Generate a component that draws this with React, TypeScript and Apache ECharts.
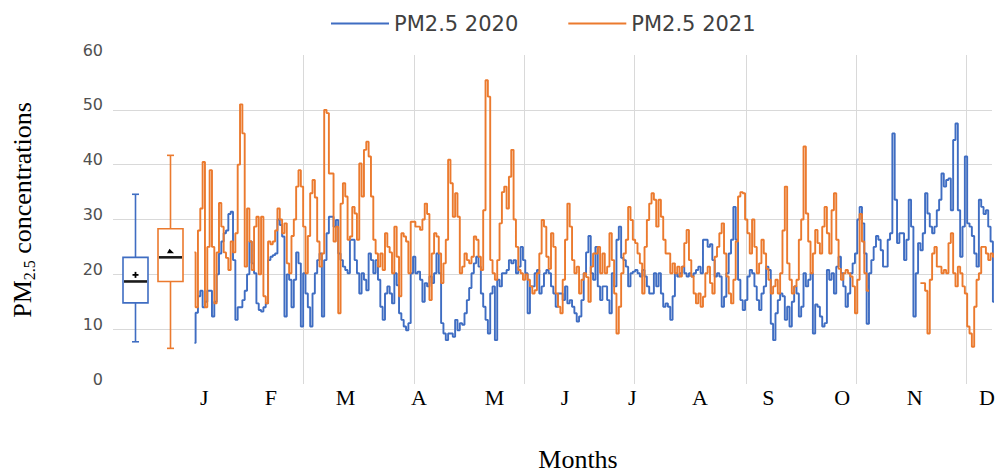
import React, { useEffect, useRef } from 'react';
import * as echarts from 'echarts';

// Month tick labels and where they sit (day-of-year units)
const monthLabels = ['J', 'F', 'M', 'A', 'M', 'J', 'J', 'A', 'S', 'O', 'N', 'D'];
const monthLabelDays = [4.2, 32.7, 64.6, 96.0, 128.3, 158.5, 187.3, 216.2, 245.5, 277.0, 308.0, 339.0];
// Vertical gridline positions (day-of-year units)
const gridDays = [46.7, 93.9, 141.0, 188.2, 235.8, 283.0, 330.1];
const yTicks = [0, 10, 20, 30, 40, 50, 60];

const seriesNames = ['PM2.5 2020', 'PM2.5 2021'];

// Daily PM2.5, 2020
const pm2020 = [
  7.5, 13, 16, 17, 14, 15, 17, 17, 12.3, 15, 20, 23.8, 26, 27.5, 28, 31, 31.4, 22.6, 11.7, 14,
  14, 15.3, 17, 20, 26, 22, 20.2, 14.7, 13.5, 13.2, 14, 14.7, 22.6, 23.2, 23.5, 23.8, 30, 29, 26.9, 12.3,
  20, 19, 14, 19, 24, 22, 10.5, 20.2, 16.5, 14, 10.5, 16.5, 20.2, 22.6, 23.8, 12.3, 22.6, 27.5, 30.5, 30.5,
  28.7, 29.9, 23.8, 22.6, 21.4, 20.8, 20.2, 26.3, 26.3, 22.6, 20.2, 16.5, 20.2, 19, 17.1, 23.8, 22.6, 20.2, 22.6, 19,
  14.1, 11.7, 16.5, 17.8, 16.5, 14.7, 20.2, 18, 12.9, 11.7, 10.5, 9.8, 11.1, 20.2, 23.2, 20.2, 20.5, 19, 15, 18.4,
  17.8, 19.6, 18.4, 20.2, 23.8, 20.2, 11.1, 9.2, 8, 9.2, 9.2, 8.6, 11.7, 9.8, 11.1, 10.8, 12.9, 15.3, 17.5, 20.2,
  22, 23.2, 21.4, 16.5, 14.1, 11.7, 9.2, 16.5, 17.8, 8, 19, 17.8, 20.2, 20.2, 20.8, 22.6, 22, 22.6, 20.2, 21.4,
  25, 22.6, 20.2, 12.9, 17.8, 17.8, 20.2, 20.8, 16.5, 17.8, 20.2, 20.8, 20.2, 17.8, 16.5, 14.1, 16.5, 16.5, 15.3, 17.8,
  14.7, 15.3, 14.1, 12.9, 11.4, 12.3, 15.3, 20.2, 24, 27, 20.2, 19, 25, 17.8, 15.3, 17.8, 17.8, 15.3, 12.9, 20.2,
  17.8, 26.3, 28.7, 23, 22.6, 21.4, 17.8, 20.2, 20.5, 20.8, 20.2, 19.6, 20.8, 19.6, 17.8, 16.5, 16.5, 20.2, 17.8, 20.2,
  16.5, 14.1, 14.7, 14.1, 11.7, 16, 20.2, 19.6, 20.2, 21.4, 20.2, 19.6, 20.2, 19.6, 20.2, 20.8, 21.4, 20.2, 26.3, 26.3,
  25, 25.5, 22.6, 19.6, 20.2, 19.6, 14.1, 15.9, 20.2, 23.8, 26.3, 32.3, 26.3, 19, 15.3, 13.5, 15.3, 19.6, 20.8, 20.2,
  17.8, 15.3, 13.5, 16.5, 17.8, 21.4, 20.8, 11, 8, 12.9, 15.3, 16.5, 16, 11.7, 14.1, 10.5, 15, 17.8, 16.5, 12.3,
  14.1, 20.2, 17.8, 19, 20.2, 9.2, 14.5, 14.1, 12.3, 10.5, 11.1, 20.8, 19, 20.2, 16.5, 21.4, 23.2, 20.2, 17.8, 14.1,
  16.5, 20.2, 22, 23.8, 30, 32.3, 29.3, 23.8, 11, 20.2, 22.6, 25, 27, 26.3, 24.4, 21.4, 21.4, 26.3, 27.5, 45.7,
  33.6, 25.7, 27.5, 27.5, 22.6, 26.3, 33.6, 28.7, 12.3, 20.2, 25.7, 24.4, 27.5, 34.8, 31.1, 28.7, 27.5, 28.7, 31.7, 33.6,
  38.4, 36, 37.2, 37.5, 31.7, 44.5, 47.5, 31.7, 23.2, 28.7, 41.5, 29.3, 28.7, 27, 23.8, 21.4, 33.6, 32.3, 31, 31.7,
  28.7, 26, 15
];

// Daily PM2.5, 2021 (null = missing days)
const pm2021 = [
  24, 14, 28, 32, 40.5, 14, 25, 39, 25, 14.7, 24, 33, 28.7, 24, 23, 20.8, 26, 24, 27.5, 40,
  51, 45.7, 21.4, 32, 26, 20.8, 28.7, 30.5, 20, 30.5, 16, 14.7, 26, 25.5, 26, 28, 32, 30, 27.5, 29.3,
  22, 20.2, 27, 30, 36, 39, 36, 28.7, 20.2, 27, 34.8, 37.2, 34, 26, 21.4, 23.8, 50, 49.4, 38.4, 38.4,
  26, 28.7, 12.9, 32.9, 36.6, 34.2, 26.3, 26.9, 32.3, 31.1, 26.3, 40.2, 34.2, 42.7, 44.2, 41.5, 34.2, 26.3, 23.8, 21.4,
  23.8, 20.8, 27.5, 25, 24, 20.2, 28.7, 23.2, 16, 27.5, 26.9, 26, 20.2, 29.6, 29.6, 28.7, 28.7, 28.1, 30, 32.9,
  31, 15.3, 23.8, 27.5, 26.9, 23.8, 18.4, 22, 26.3, 40.9, 36.6, 30.5, 34.8, 30.5, 20.2, 21.4, 23.8, 22.6, 22, 23.2,
  26.9, 26.3, 23.2, 20.8, 31.7, 55.4, 52.4, 22.6, 20.2, 19, 22.6, 29.3, 35, 36, 32, 37.8, 42.7, 30, 25, 20.8,
  20.2, 19, 20, 19, 17.8, 16.5, 17.1, 20.2, 23.8, 29.9, 28.7, 23.2, 21, 27.5, 25, 16.5, 14.1, 12.9, 19, 26.3,
  32.9, 28.7, 22.6, 20.2, 21.4, 16.5, 19, 20.2, 19.5, 15, 21.4, 23.8, 23.8, 25, 20.2, 23.8, 20.2, 21.4, 27.5, 22.6,
  16.5, 9.2, 14.1, 20.2, 23.8, 26.3, 32.3, 29.9, 26.3, 25.7, 23.8, 22, 16.5, 25, 29.9, 32.9, 34.8, 33.6, 28.7, 33.6,
  30.5, 26.3, 23.8, 23.8, 20.2, 22, 20.2, 21.4, 19.6, 21.4, 25.7, 28.1, 22.6, 19.6, 16.5, 14.7, 16.5, 14.1, 15.9, 20.2,
  21.4, 18.4, 16.5, 23.2, 25, 27.5, 29.3, 23.8, 19.6, 16.5, 14.7, 19, 26, 34.2, 35, 34.8, 30, 27.5, 23.8, 30,
  25, 20.2, 22, 26.3, 23.8, 21, 19, 16.5, 17.8, 19, 16.5, 20.2, 28, 36, 22, 19, 16.5, 17.8, 19, 26.3,
  30, 43.3, 31.1, 26, 20.2, 23.8, 28.1, 25.7, 23.8, 28.7, 32.3, 27.5, 23.8, 31.7, 34.8, 26.3, 21, 19, 20.2, 20.8,
  20.2, 19.6, 17.8, 12.9, 19, 31, 26, 20.2, 17,
  null, null, null, null, null, null, null, null, null, null, null, null, null, null, null, null, null, null, null, null, null, null,
  18.4, 18.4, 17, 9.2, 19, 23.8, 25, 21.4, 21.4, 20.2, 20.8, 20.2, 25.7, 27.5, 20.2, 17.8, 21.4, 20.2, 17.8, 16.5,
  10.5, 9.2, 6.8, 14.1, 19, 20.2, 25, 25, 23.8, 22.6, 23.8, 23.2
];

// Box plots: [min, Q1, median, Q3, max] and mean
const boxCategories = ['2020', '2021'];
const box2020 = [7.7, 14.8, 18.7, 23.1, 34.6];
const box2021 = [6.5, 18.7, 23.1, 28.3, 41.7];
const boxMeans = [19.9, 24.2];

const BLUE = '#3F6DC2';
const ORANGE = '#EB7A2E';

function makeBoxRender(markerKind: 'plus' | 'tri') {
  return (params: any, api: any) => {
    const c = api.visual('color');
    const xi = api.value(0);
    const P = (v: number) => api.coord([xi, v]);
    const x = P(api.value(1))[0];
    const yMin = P(api.value(1))[1];
    const yQ1 = P(api.value(2))[1];
    const yMed = P(api.value(3))[1];
    const yQ3 = P(api.value(4))[1];
    const yMax = P(api.value(5))[1];
    const yMean = P(api.value(6))[1];
    const hw = 12.5;
    const cw = 3.5;
    const ls = { stroke: c, lineWidth: 1.6, fill: null };
    const children: any[] = [
      { type: 'line', shape: { x1: x, y1: yMin, x2: x, y2: yQ1 }, style: ls },
      { type: 'line', shape: { x1: x, y1: yQ3, x2: x, y2: yMax }, style: ls },
      { type: 'line', shape: { x1: x - cw, y1: yMin, x2: x + cw, y2: yMin }, style: ls },
      { type: 'line', shape: { x1: x - cw, y1: yMax, x2: x + cw, y2: yMax }, style: ls },
      { type: 'rect', shape: { x: x - hw, y: yQ3, width: hw * 2, height: yQ1 - yQ3 }, style: { stroke: c, lineWidth: 1.6, fill: '#ffffff' } },
      { type: 'line', shape: { x1: x - hw + 1, y1: yMed, x2: x + hw - 1, y2: yMed }, style: { stroke: '#1b1b1b', lineWidth: 2.6 } },
    ];
    if (markerKind === 'plus') {
      children.push({ type: 'line', shape: { x1: x - 3, y1: yMean, x2: x + 3, y2: yMean }, style: { stroke: '#000', lineWidth: 1.8 } });
      children.push({ type: 'line', shape: { x1: x, y1: yMean - 3, x2: x, y2: yMean + 3 }, style: { stroke: '#000', lineWidth: 1.8 } });
    } else {
      children.push({ type: 'polygon', shape: { points: [[x - 3.5, yMean + 2], [x + 3.5, yMean + 2], [x - 1, yMean - 2.5]] }, style: { fill: '#000' } });
    }
    return { type: 'group', children };
  };
}

export default function App() {
  const ref = useRef<HTMLDivElement>(null);
  useEffect(() => {
    document.body.style.margin = '0';
    if (!ref.current) return;
    const chart = echarts.init(ref.current, null, { renderer: 'svg' });
    const gridColor = '#d9d9d9';
    const option: any = {
      animation: false,
      backgroundColor: '#ffffff',
      legend: {
        data: seriesNames,
        left: 326,
        top: 8,
        icon: 'rect',
        itemWidth: 58,
        itemHeight: 2,
        itemGap: 50,
        textStyle: { fontFamily: 'DejaVu Sans', fontSize: 21, color: '#404040' },
      },
      grid: [
        { left: 113, right: 0, top: 55, bottom: 90 },
        { left: 118, width: 70, top: 55, bottom: 90 },
      ],
      xAxis: [
        {
          type: 'value',
          gridIndex: 0,
          min: -34.83,
          max: 341.1,
          axisLine: { show: false },
          axisTick: { show: false, customValues: gridDays },
          splitLine: { show: true, lineStyle: { color: gridColor, width: 1 } },
          axisLabel: {
            customValues: monthLabelDays,
            formatter: (v: number) => {
              const i = monthLabelDays.findIndex((d) => Math.abs(d - v) < 0.01);
              return i >= 0 ? monthLabels[i] : '';
            },
            fontFamily: 'Liberation Serif',
            fontSize: 22,
            color: '#000000',
            margin: 2,
          },
        },
        { type: 'category', gridIndex: 1, data: boxCategories, show: false },
      ],
      yAxis: [
        {
          type: 'value',
          gridIndex: 0,
          min: yTicks[0],
          max: yTicks[yTicks.length - 1],
          interval: 10,
          axisLine: { show: false },
          axisTick: { show: false },
          splitLine: {
            show: true,
            lineStyle: { color: ['transparent', gridColor, gridColor, gridColor, gridColor, gridColor, 'transparent'], width: 1 },
          },
          axisLabel: {
            fontFamily: 'DejaVu Sans',
            fontSize: 16,
            color: '#505050',
            margin: 10,
            verticalAlign: 'bottom',
            lineHeight: 10,
          },
        },
        { type: 'value', gridIndex: 1, min: 0, max: 60, show: false, splitLine: { show: false } },
      ],
      series: [
        {
          name: seriesNames[0],
          type: 'line',
          xAxisIndex: 0,
          yAxisIndex: 0,
          data: pm2020.map((v, i) => [i, v]),
          showSymbol: false,
          symbol: 'none',
          step: 'middle',
          lineStyle: { color: BLUE, width: 1.9 },
          itemStyle: { color: BLUE },
          z: 3,
        },
        {
          name: seriesNames[1],
          type: 'line',
          xAxisIndex: 0,
          yAxisIndex: 0,
          data: pm2021.map((v, i) => [i, v === null ? '-' : v]),
          showSymbol: false,
          symbol: 'none',
          step: 'middle',
          connectNulls: false,
          lineStyle: { color: ORANGE, width: 1.9 },
          itemStyle: { color: ORANGE },
          z: 4,
        },
        {
          type: 'custom',
          xAxisIndex: 1,
          yAxisIndex: 1,
          itemStyle: { color: BLUE },
          renderItem: makeBoxRender('plus'),
          data: [[0, ...box2020, boxMeans[0]]],
          encode: { x: 0, y: [1, 2, 3, 4, 5, 6] },
          z: 5,
        },
        {
          type: 'custom',
          xAxisIndex: 1,
          yAxisIndex: 1,
          itemStyle: { color: ORANGE },
          renderItem: makeBoxRender('tri'),
          data: [[1, ...box2021, boxMeans[1]]],
          encode: { x: 0, y: [1, 2, 3, 4, 5, 6] },
          z: 5,
        },
      ],
      graphic: [
        {
          type: 'text',
          x: 22,
          y: 210,
          rotation: Math.PI / 2,
          style: {
            text: '{a|PM}{b|2.5}{a| concentrations}',
            align: 'center',
            verticalAlign: 'middle',
            rich: {
              a: { fontFamily: 'Liberation Serif', fontSize: 26, lineHeight: 30, fill: '#000000' },
              b: { fontFamily: 'Liberation Serif', fontSize: 16, verticalAlign: 'bottom', fill: '#000000' },
            },
          },
        },
        {
          type: 'text',
          x: 578,
          y: 459,
          style: {
            text: 'Months',
            fontFamily: 'Liberation Serif',
            fontSize: 26,
            fill: '#000000',
            align: 'center',
            verticalAlign: 'middle',
          },
        },
      ],
    };
    chart.setOption(option);
    return () => chart.dispose();
  }, []);
  return <div ref={ref} style={{ width: 998, height: 474 }} />;
}
